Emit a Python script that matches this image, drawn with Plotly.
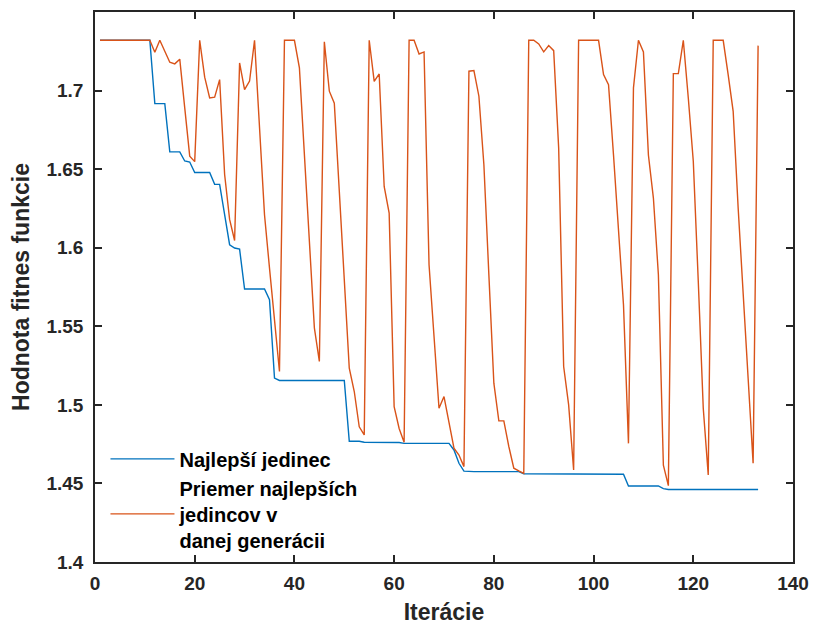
import plotly.graph_objects as go

iterations = list(range(1, 134))

best = (
    [1.732] * 11
    + [1.6917] * 3
    + [1.661] * 3
    + [1.6552, 1.6545]
    + [1.6479] * 4
    + [1.6403] * 2
    + [1.6210, 1.6019, 1.5998, 1.5991]
    + [1.5737] * 5
    + [1.5669, 1.5170]
    + [1.5155] * 14
    + [1.4768] * 3
    + [1.4762] * 5
    + [1.4760] * 3
    + [1.4755] * 10
    + [1.4713, 1.4628, 1.4578]
    + [1.4575] * 11
    + [1.4562] * 10
    + [1.4558] * 11
    + [1.4484] * 7
    + [1.4467]
    + [1.4461] * 19
)

mean_best = (
    [1.732] * 11
    + [1.7244, 1.732, 1.725, 1.718, 1.717, 1.720, 1.689, 1.6583, 1.6548, 1.732,
       1.7085, 1.6953, 1.6958, 1.707, 1.6466, 1.618, 1.6046, 1.7176, 1.7006, 1.706,
       1.732, 1.674, 1.621, 1.587, 1.553, 1.5212, 1.732, 1.732, 1.732, 1.7144,
       1.659, 1.604, 1.549, 1.5276, 1.731, 1.6996, 1.692, 1.636, 1.58, 1.5233,
       1.5085, 1.486, 1.4809, 1.732, 1.7059, 1.7106, 1.639, 1.622, 1.4989, 1.485,
       1.4762, 1.732, 1.732, 1.7233, 1.7246, 1.5891, 1.5435, 1.4978, 1.5053, 1.4893,
       1.4724, 1.4681, 1.4607, 1.7123, 1.7127, 1.6964, 1.6528, 1.5827, 1.5138, 1.4898,
       1.4898, 1.4735, 1.4597, 1.458, 1.4564, 1.732, 1.732, 1.7297, 1.7246, 1.7286,
       1.7254, 1.6635, 1.5244, 1.5, 1.4585, 1.732, 1.732, 1.732, 1.732, 1.732,
       1.7102, 1.7038, 1.659, 1.6125, 1.5636, 1.4755, 1.7017, 1.732, 1.7246, 1.659,
       1.6316, 1.5828, 1.4617, 1.4486, 1.7108, 1.7108, 1.732, 1.6953, 1.655, 1.5786,
       1.4978, 1.4554, 1.732, 1.732, 1.732, 1.71, 1.6868, 1.6253, 1.568, 1.5169,
       1.4628, 1.7286]
)

x_ticks = [0, 20, 40, 60, 80, 100, 120, 140]
y_ticks = [1.4, 1.45, 1.5, 1.55, 1.6, 1.65, 1.7]
y_tick_labels = ["1.4", "1.45", "1.5", "1.55", "1.6", "1.65", "1.7"]

name_best = "Najlepší jedinec"
name_mean = "Priemer najlepších<br>jedincov v<br>danej generácii"

FONT = "Liberation Sans, Arial, Helvetica, sans-serif"
AX = "#262626"

fig = go.Figure()
fig.add_trace(go.Scatter(x=iterations, y=best, mode="lines", name=name_best,
                         line=dict(color="#0072BD", width=1.4)))
fig.add_trace(go.Scatter(x=iterations, y=mean_best, mode="lines", name=name_mean,
                         line=dict(color="#D95319", width=1.4)))

axis_common = dict(showline=True, linecolor=AX, linewidth=1.5, mirror="ticks",
                   ticks="inside", ticklen=7, tickwidth=1.5, tickcolor=AX,
                   showgrid=False, zeroline=False, automargin=False,
                   tickfont=dict(family=FONT, size=19, color=AX, weight="bold"))

fig.update_layout(
    width=813, height=625,
    margin=dict(l=95, r=20, t=12, b=63),
    paper_bgcolor="white", plot_bgcolor="white",
    xaxis=dict(range=[0, 140], tickvals=x_ticks, ticklabelstandoff=3,
               title=dict(text="Iterácie", standoff=12,
                          font=dict(family=FONT, size=23, color=AX, weight="bold")),
               **axis_common),
    yaxis=dict(range=[1.4, 1.75], tickvals=y_ticks, ticktext=y_tick_labels,
               ticklabelstandoff=6,
               title=dict(text="Hodnota fitnes funkcie", standoff=10,
                          font=dict(family=FONT, size=23, color=AX, weight="bold")),
               **axis_common),
    legend=dict(x=0.015, y=0.223, xanchor="left", yanchor="top",
                bgcolor="rgba(0,0,0,0)", borderwidth=0, itemwidth=64,
                font=dict(family=FONT, size=20, color="black", weight="bold")),
    showlegend=True,
)

fig.write_html("out.html")
